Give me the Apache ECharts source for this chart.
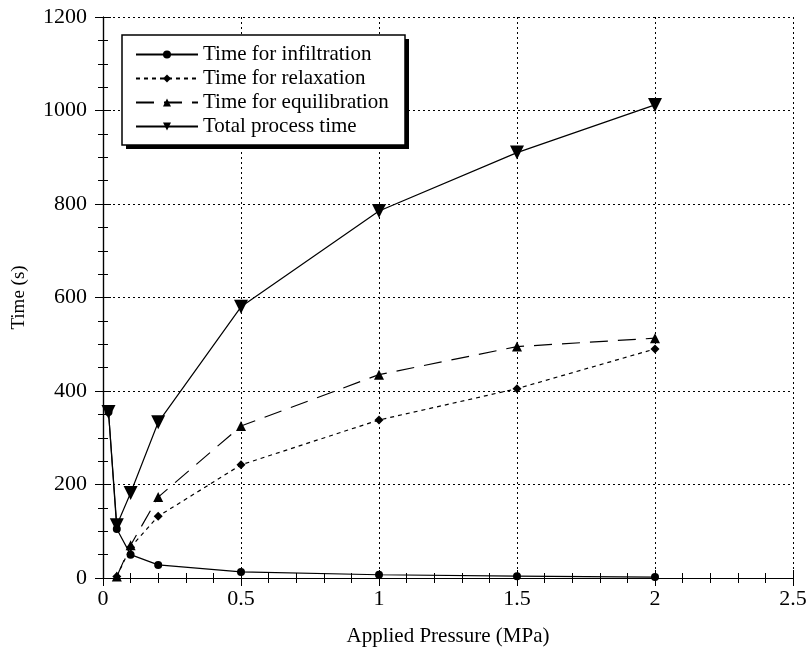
<!DOCTYPE html>
<html><head><meta charset="utf-8">
<script src="https://cdn.jsdelivr.net/npm/echarts@6/dist/echarts.min.js"></script>
<style>html,body{margin:0;padding:0;background:#fff}#c{width:808px;height:651px}</style>
</head><body><div id="c"></div>
<script>
const pressure = [0.02, 0.05, 0.1, 0.2, 0.5, 1.0, 1.5, 2.0];
const infiltration = [355, 105, 50, 28, 13, 7, 4, 2];
const relaxPressure = [0.05, 0.1, 0.2, 0.5, 1.0, 1.5, 2.0];
const relaxation = [3, 66, 132, 242, 338, 405, 490];
const equilibration = [3, 70, 173, 325, 435, 495, 513];
const total = [355, 113, 182, 333, 580, 785, 910, 1012];
const names = ['Time for infiltration','Time for relaxation','Time for equilibration','Total process time'];

const font = 'Liberation Serif';
const pair = (xs, ys) => xs.map((x, i) => [x, ys[i]]);
const downTri = 'path://M0,0 L10,0 L5,9 Z';
const mk = (name, data, symbol, size, dash) => ({
  name, type: 'line', data, symbol, symbolSize: size,
  lineStyle: { color: '#000', width: 1.2, type: dash },
  itemStyle: { color: '#000' }, z: 3
});
const axCommon = {
  axisLine: { show: true, lineStyle: { color: '#000', width: 1.2 } },
  axisTick: { show: true, inside: true, length: 8, lineStyle: { color: '#000' } },
  minorTick: { show: true, length: 5, lineStyle: { color: '#000' } },
};
const chart = echarts.init(document.getElementById('c'));
chart.setOption({
  animation: false,
  backgroundColor: '#fff',
  grid: { left: 103, right: 15, top: 17, bottom: 73, containLabel: false, outerBoundsMode: 'none' },
  graphic: [
    { type: 'rect', z: 5, shape: { x: 126, y: 39, width: 283, height: 110 }, style: { fill: '#000' } },
    { type: 'rect', z: 5, shape: { x: 122, y: 35, width: 283, height: 110 }, style: { fill: '#fff', stroke: '#000', lineWidth: 1.5 } }
  ],
  legend: {
    left: 135, top: 44, orient: 'vertical', z: 10,
    itemWidth: 62, itemHeight: 10, itemGap: 3, padding: 0,
    textStyle: { fontFamily: font, fontSize: 21, color: '#000' },
    data: names
  },
  xAxis: [
    Object.assign({}, axCommon, {
      type: 'value', min: 0, max: 2.5, interval: 0.5,
      minorTick: Object.assign({}, axCommon.minorTick, { splitNumber: 5 }),
      axisLabel: { fontFamily: font, fontSize: 22, color: '#000', margin: 10 },
      splitLine: { show: true, lineStyle: { color: '#000', type: [2, 3], width: 1 } },
      name: 'Applied Pressure (MPa)', nameLocation: 'middle', nameGap: 48,
      nameTextStyle: { fontFamily: font, fontSize: 21, color: '#000' }
    }),
    Object.assign({}, axCommon, {
      type: 'value', min: 0, max: 2.5, interval: 0.5, position: 'top',
      minorTick: Object.assign({}, axCommon.minorTick, { splitNumber: 5 }),
      axisLabel: { show: false }, splitLine: { show: false }
    })
  ],
  yAxis: [
    Object.assign({}, axCommon, {
      type: 'value', min: 0, max: 1200, interval: 200,
      minorTick: Object.assign({}, axCommon.minorTick, { splitNumber: 4 }),
      axisLabel: { fontFamily: font, fontSize: 22, color: '#000', margin: 16, formatter: v => String(v) },
      splitLine: { show: true, lineStyle: { color: '#000', type: [2, 3], width: 1 } },
      name: 'Time (s)', nameLocation: 'middle', nameGap: 74, nameRotate: 90,
      nameTextStyle: { fontFamily: font, fontSize: 19, color: '#000' }
    }),
    Object.assign({}, axCommon, {
      type: 'value', min: 0, max: 1200, interval: 200, position: 'right',
      minorTick: Object.assign({}, axCommon.minorTick, { splitNumber: 4 }),
      axisLabel: { show: false }, splitLine: { show: false }
    })
  ],
  series: [
    mk(names[0], pair(pressure, infiltration), 'circle', 8, 'solid'),
    mk(names[1], pair(relaxPressure, relaxation), 'diamond', 9, [4, 4]),
    mk(names[2], pair(relaxPressure, equilibration), 'triangle', 10, [18, 10]),
    mk(names[3], pair(pressure, total), downTri, 14, 'solid')
  ]
});
</script></body></html>
